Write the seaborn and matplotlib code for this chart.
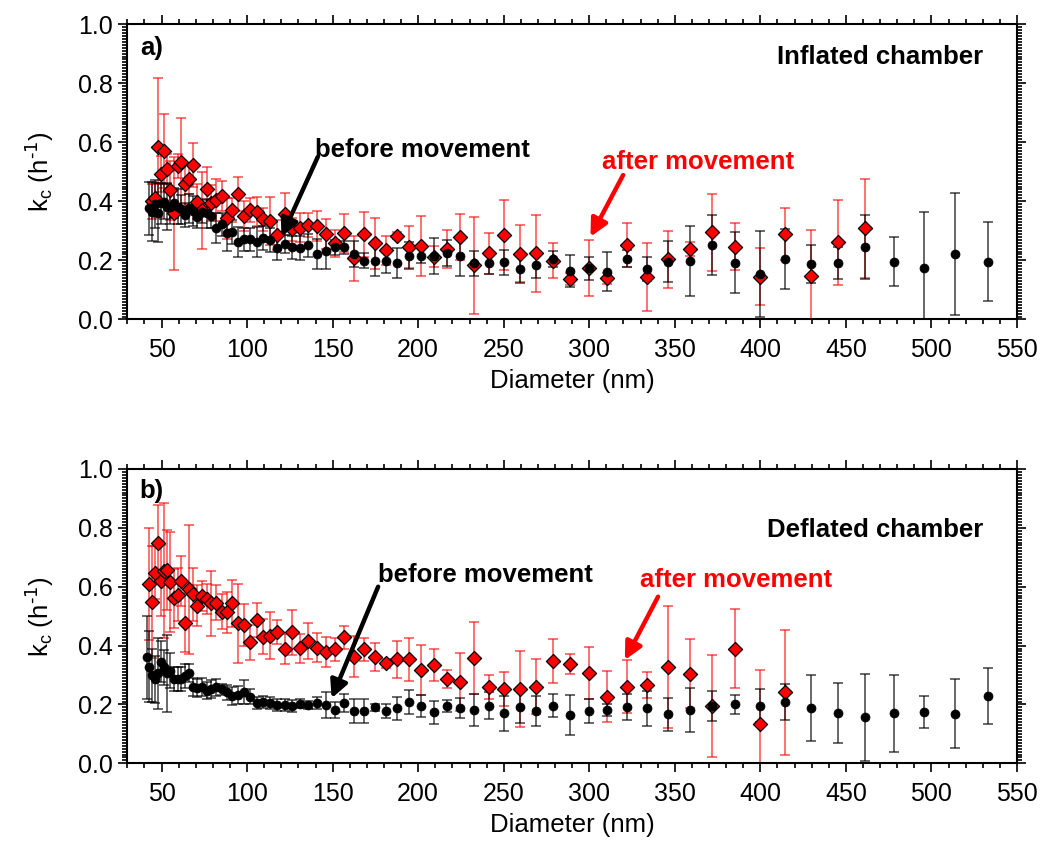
import numpy as np
import pandas as pd
import matplotlib
matplotlib.use("Agg")
import matplotlib.pyplot as plt
from matplotlib.ticker import MultipleLocator
import seaborn as sns

# ---------------- data ----------------
bins = [41.4, 42.9, 44.5, 46.1, 47.8, 49.6, 51.4, 53.3, 55.2, 57.3, 59.4, 61.5,
        63.8, 66.1, 68.5, 71.0, 73.7, 76.4, 79.1, 82.0, 85.1, 88.2, 91.4, 94.7,
        98.2, 101.8, 105.5, 109.4, 113.4, 117.6, 121.9, 126.3, 131.0, 135.8,
        140.7, 145.9, 151.2, 156.8, 162.5, 168.5, 174.7, 181.1, 187.7, 194.6,
        201.7, 209.1, 216.7, 224.7, 232.9, 241.4, 250.3, 259.5, 269.0, 278.8,
        289.0, 299.6, 310.6, 322.0, 333.8, 346.0, 358.7, 371.8, 385.4, 399.5,
        414.2, 429.4, 445.1, 461.4, 478.3, 495.8, 514.0, 532.8]

# panel a) inflated chamber
a_before_d = bins[1:]
a_before_k = [0.376, 0.365, 0.391, 0.361, 0.393, 0.399, 0.382, 0.382, 0.395, 0.382,
              0.373, 0.354, 0.376, 0.368, 0.348, 0.365, 0.359, 0.350, 0.309, 0.322,
              0.292, 0.297, 0.263, 0.271, 0.271, 0.262, 0.275, 0.269, 0.243, 0.255,
              0.244, 0.241, 0.251, 0.221, 0.231, 0.244, 0.244, 0.222, 0.199, 0.199,
              0.199, 0.190, 0.216, 0.216, 0.215, 0.226, 0.215, 0.190, 0.190, 0.194,
              0.172, 0.183, 0.204, 0.164, 0.173, 0.162, 0.206, 0.170, 0.195, 0.198,
              0.252, 0.192, 0.154, 0.204, 0.187, 0.190, 0.246, 0.196, 0.173, 0.221,
              0.196]
a_before_err = [0.09, 0.10, 0.08, 0.10, 0.07, 0.06, 0.08, 0.06, 0.05, 0.06,
                0.05, 0.04, 0.05, 0.05, 0.04, 0.04, 0.05, 0.04, 0.05, 0.04,
                0.06, 0.04, 0.05, 0.04, 0.04, 0.05, 0.04, 0.04, 0.04, 0.03,
                0.04, 0.04, 0.04, 0.05, 0.06, 0.025, 0.022, 0.043, 0.025, 0.053,
                0.04, 0.051, 0.045, 0.025, 0.062, 0.044, 0.067, 0.042, 0.036, 0.042,
                0.047, 0.044, 0.028, 0.053, 0.038, 0.066, 0.03, 0.04, 0.069, 0.118,
                0.102, 0.103, 0.144, 0.102, 0.064, 0.054, 0.109, 0.083, 0.192, 0.206,
                0.133]
a_after_d = bins[2:68]
a_after_k = [0.40, 0.41, 0.583, 0.492, 0.570, 0.510, 0.438, 0.359, 0.520, 0.532,
             0.46, 0.475, 0.523, 0.399, 0.37, 0.441, 0.395, 0.404, 0.418, 0.342,
             0.371, 0.424, 0.351, 0.371, 0.365, 0.339, 0.333, 0.286, 0.357, 0.305,
             0.311, 0.320, 0.317, 0.289, 0.258, 0.294, 0.207, 0.288, 0.258, 0.235,
             0.284, 0.246, 0.249, 0.213, 0.238, 0.280, 0.184, 0.224, 0.286, 0.223,
             0.224, 0.199, 0.136, 0.175, 0.139, 0.251, 0.143, 0.204, 0.239, 0.295,
             0.246, 0.145, 0.289, 0.147, 0.261, 0.309]
a_after_err = [0.06, 0.05, 0.235, 0.06, 0.125, 0.05, 0.10, 0.19, 0.04, 0.15,
               0.07, 0.05, 0.073, 0.06, 0.13, 0.075, 0.06, 0.07, 0.05, 0.07,
               0.04, 0.057, 0.05, 0.04, 0.05, 0.04, 0.08, 0.05, 0.07, 0.04,
               0.05, 0.04, 0.05, 0.05, 0.045, 0.064, 0.077, 0.075, 0.087, 0.049,
               0.012, 0.072, 0.101, 0.037, 0.064, 0.078, 0.164, 0.07, 0.118, 0.096,
               0.13, 0.059, 0.02, 0.095, 0.02, 0.074, 0.115, 0.096, 0.024, 0.13,
               0.08, 0.097, 0.087, 0.155, 0.143, 0.167]

# panel b) deflated chamber
b_before_d = bins[:]
b_before_k = [0.360, 0.328, 0.300, 0.285, 0.306, 0.345, 0.326, 0.306, 0.315, 0.286,
              0.286, 0.286, 0.297, 0.306, 0.260, 0.255, 0.260, 0.247, 0.252, 0.258,
              0.251, 0.241, 0.229, 0.232, 0.243, 0.226, 0.206, 0.209, 0.206, 0.198,
              0.197, 0.195, 0.202, 0.198, 0.206, 0.199, 0.182, 0.204, 0.178, 0.178,
              0.191, 0.178, 0.187, 0.209, 0.196, 0.173, 0.196, 0.188, 0.181, 0.196,
              0.170, 0.191, 0.178, 0.196, 0.164, 0.178, 0.182, 0.191, 0.187, 0.166,
              0.181, 0.195, 0.200, 0.196, 0.209, 0.188, 0.170, 0.156, 0.170, 0.175,
              0.168, 0.229]
b_before_err = [0.14, 0.12, 0.09, 0.08, 0.12, 0.07, 0.06, 0.13, 0.06, 0.04,
                0.04, 0.04, 0.04, 0.03, 0.03, 0.03, 0.03, 0.03, 0.03, 0.03,
                0.02, 0.025, 0.03, 0.03, 0.04, 0.025, 0.02, 0.02, 0.02, 0.02,
                0.02, 0.02, 0.015, 0.015, 0.02, 0.045, 0.027, 0.03, 0.04, 0.04,
                0.012, 0.025, 0.04, 0.04, 0.037, 0.04, 0.02, 0.035, 0.055, 0.045,
                0.06, 0.055, 0.05, 0.04, 0.068, 0.04, 0.02, 0.045, 0.06, 0.056,
                0.076, 0.051, 0.031, 0.055, 0.061, 0.112, 0.102, 0.149, 0.13, 0.055,
                0.117, 0.095]
b_after_d = bins[1:65]
b_after_k = [0.609, 0.547, 0.648, 0.748, 0.620, 0.655, 0.657, 0.615, 0.561, 0.572,
             0.620, 0.478, 0.591, 0.575, 0.536, 0.569, 0.558, 0.544, 0.546, 0.515,
             0.513, 0.544, 0.476, 0.470, 0.411, 0.487, 0.430, 0.434, 0.447, 0.388,
             0.445, 0.391, 0.416, 0.393, 0.378, 0.387, 0.428, 0.362, 0.387, 0.362,
             0.340, 0.353, 0.353, 0.317, 0.333, 0.286, 0.276, 0.357, 0.258, 0.253,
             0.253, 0.260, 0.348, 0.336, 0.308, 0.226, 0.260, 0.265, 0.328, 0.304,
             0.195, 0.389, 0.132, 0.241]
b_after_err = [0.19, 0.19, 0.09, 0.13, 0.12, 0.23, 0.135, 0.17, 0.10, 0.09,
               0.085, 0.10, 0.22, 0.09, 0.07, 0.05, 0.05, 0.11, 0.06, 0.06,
               0.07, 0.08, 0.134, 0.07, 0.06, 0.057, 0.06, 0.08, 0.04, 0.05,
               0.076, 0.05, 0.06, 0.05, 0.05, 0.04, 0.04, 0.07, 0.04, 0.047,
               0.015, 0.062, 0.072, 0.085, 0.054, 0.031, 0.098, 0.123, 0.041, 0.057,
               0.128, 0.093, 0.076, 0.034, 0.088, 0.087, 0.09, 0.044, 0.207, 0.117,
               0.174, 0.134, 0.185, 0.211]

x_ticks = [50, 100, 150, 200, 250, 300, 350, 400, 450, 500, 550]
y_ticks = [0.0, 0.2, 0.4, 0.6, 0.8, 1.0]

# ---------------- style ----------------
sns.set_theme(style="ticks", rc={
    "axes.edgecolor": "black", "xtick.color": "black", "ytick.color": "black",
    "text.color": "black", "axes.labelcolor": "black", "axes.linewidth": 1.5,
})
plt.rcParams["font.family"] = ["Liberation Sans", "DejaVu Sans"]
plt.rcParams["mathtext.default"] = "regular"

fig = plt.figure(figsize=(10.42, 8.43), dpi=100)
ax1 = fig.add_axes([0.1222, 0.621, 0.8538, 0.3505])
ax2 = fig.add_axes([0.1222, 0.0945, 0.8538, 0.3492])


def draw_panel(ax, bd, bk, be, rd, rk, re):
    ax.errorbar(rd, rk, yerr=re, fmt="none", ecolor=(1, 0, 0, 0.7),
                elinewidth=1.1, capsize=3.5, capthick=1.1, zorder=2)
    ax.errorbar(bd, bk, yerr=be, fmt="none", ecolor=(0, 0, 0, 0.75),
                elinewidth=1.1, capsize=3.5, capthick=1.1, zorder=2.1)
    dfr = pd.DataFrame({"d": rd, "k": rk})
    dfb = pd.DataFrame({"d": bd, "k": bk})
    sns.scatterplot(data=dfr, x="d", y="k", ax=ax, marker="D", s=52,
                    color="#ff0000", edgecolor="black", linewidth=0.9, zorder=3)
    sns.scatterplot(data=dfb, x="d", y="k", ax=ax, marker="o", s=42,
                    color="black", edgecolor="black", linewidth=0.5, zorder=3.1)

    ax.set_xlim(30, 550)
    ax.set_ylim(0, 1.0)
    ax.set_xticks(x_ticks)
    ax.set_yticks(y_ticks)
    ax.set_xticklabels([str(t) for t in x_ticks])
    ax.set_yticklabels([f"{t:.1f}" for t in y_ticks])
    ax.xaxis.set_minor_locator(MultipleLocator(10))
    ax.yaxis.set_minor_locator(MultipleLocator(0.01))
    ax.tick_params(which="both", direction="out", top=True, right=True,
                   width=1.2, labelsize=18)
    ax.tick_params(which="major", length=6.5)
    ax.tick_params(which="minor", length=3.5)
    ax.tick_params(axis="x", which="major", pad=7)
    ax.tick_params(axis="y", which="major", pad=4)
    for sp in ax.spines.values():
        sp.set_visible(True)
        sp.set_linewidth(1.5)
    ax.set_xlabel("Diameter (nm)", fontsize=18.5, labelpad=5)
    ax.set_ylabel(r"k$_{c}$ (h$^{\text{-1}}$)", fontsize=18.5)
    ax.yaxis.set_label_coords(-0.080, 0.5)


draw_panel(ax1, a_before_d, a_before_k, a_before_err, a_after_d, a_after_k, a_after_err)
draw_panel(ax2, b_before_d, b_before_k, b_before_err, b_after_d, b_after_k, b_after_err)

arrow_black = dict(arrowstyle="-|>,head_length=0.7,head_width=0.35", lw=3.2,
                   color="black", shrinkA=0, shrinkB=0, mutation_scale=15)
arrow_red = dict(arrowstyle="-|>,head_length=0.7,head_width=0.35", lw=3.2,
                 color="#ff0000", shrinkA=0, shrinkB=0, mutation_scale=15)

# panel a annotations
ax1.text(0.014, 0.96, "a)", transform=ax1.transAxes, fontsize=18.5,
         fontweight="bold", ha="left", va="top")
ax1.text(0.962, 0.89, "Inflated chamber", transform=ax1.transAxes,
         fontsize=18.5, fontweight="bold", ha="right", va="center")
ax1.text(139.6, 0.574, "before movement", fontsize=18.5, fontweight="bold",
         ha="left", va="center")
ax1.annotate("", xy=(120.1, 0.28), xytext=(141.3, 0.55), arrowprops=arrow_black)
ax1.text(307.3, 0.533, "after movement", fontsize=18.5, fontweight="bold",
         color="#ff0000", ha="left", va="center")
ax1.annotate("", xy=(300.7, 0.28), xytext=(319.8, 0.489), arrowprops=arrow_red)

# panel b annotations
ax2.text(0.014, 0.965, "b)", transform=ax2.transAxes, fontsize=18.5,
         fontweight="bold", ha="left", va="top")
ax2.text(0.962, 0.793, "Deflated chamber", transform=ax2.transAxes,
         fontsize=18.5, fontweight="bold", ha="right", va="center")
ax2.text(176.4, 0.64, "before movement", fontsize=18.5, fontweight="bold",
         ha="left", va="center")
ax2.annotate("", xy=(149.4, 0.221), xytext=(176.6, 0.60), arrowprops=arrow_black)
ax2.text(329.5, 0.623, "after movement", fontsize=18.5, fontweight="bold",
         color="#ff0000", ha="left", va="center")
ax2.annotate("", xy=(320.8, 0.351), xytext=(340.2, 0.566), arrowprops=arrow_red)

fig.savefig("out.png", dpi=100)
